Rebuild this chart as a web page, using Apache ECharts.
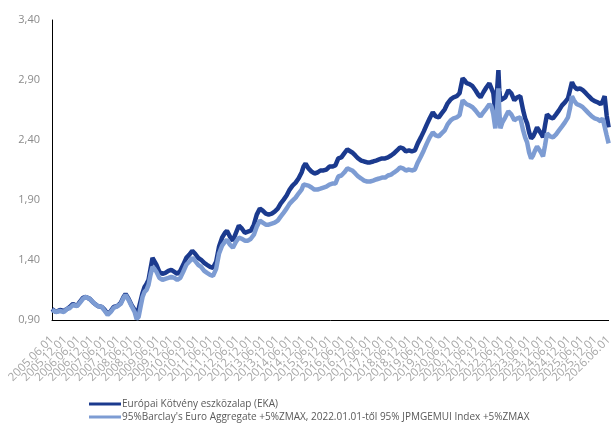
<!DOCTYPE html>
<html>
<head>
<meta charset="utf-8">
<script src="https://cdn.jsdelivr.net/npm/echarts@6/dist/echarts.min.js"></script>
<style>
html,body{margin:0;padding:0;background:#fff;}
#chart{width:615px;height:424px;}
</style>
</head>
<body>
<div id="chart"></div>
<script>
// Months since 2005.06.01
const months = [0,1.8,3.6,5.4,6.8,8.1,9.5,11.3,12.6,14,15.3,17.1,18.9,20.7,22.5,23.9,25.2,26.6,27.9,29.7,31.1,32.4,33.3,34.7,36,37.4,38.3,39.2,40.1,41,41.9,42.8,43.7,44.6,45.5,46.4,47.3,48.6,50,51.3,52.7,54,55.4,56.7,58.1,59.4,60.8,62.1,63.5,64.8,66.2,67.5,68.9,70.2,71.6,72.9,74.3,75.6,77,78.3,79.2,80.6,81.9,83.3,84.6,86,87.3,88.7,90,91.4,92.7,94.1,95.4,96.8,98.1,99.5,100.8,102.2,103.5,104.9,106.2,107.6,108.9,110.3,111.6,113,113.9,114.8,116.1,117.5,118.8,120.2,121.5,122.9,124.2,125.6,126.9,128.3,129.6,131,132.3,133.7,134.6,135.9,137.3,138.6,140,141.3,142.7,144,145.4,146.7,148.1,149.4,150.8,152.1,153.5,154.8,156.2,157.5,158.9,160.2,161.6,162.9,164.3,165.6,167,168.3,169.7,171,172.4,173.7,175.1,176.4,177.8,179.1,180.5,181.8,183.2,184.5,185.9,186.8,187.7,189,190.4,191.7,193.1,194,195.3,196.7,198,198.9,199.8,200.7,201.2,202.1,202.5,203,203.9,205.2,206.6,207.9,209.3,210.6,212,213.3,214.2,215.1,216,216.9,217.8,218.7,219.6,220.5,221.4,222.3,223.2,224.1,225.5,226.8,228.2,229.5,230.9,232.2,233.6,234.5,235.4,236.3,237.6,239,240.3,241.7,243,244.4,245.7,247.1,248.4,249.3,250.2,251.1,252];

const ekaValues = [0.992,0.967,0.984,0.975,0.992,1.009,1.034,1.017,1.051,1.084,1.092,1.076,1.042,1.017,1.009,0.984,0.950,0.975,1.009,1.017,1.042,1.092,1.117,1.076,1.025,0.984,0.959,0.992,1.059,1.126,1.176,1.201,1.234,1.326,1.418,1.402,1.360,1.301,1.285,1.293,1.310,1.318,1.301,1.285,1.310,1.360,1.418,1.443,1.477,1.452,1.418,1.402,1.376,1.360,1.343,1.335,1.385,1.510,1.586,1.627,1.644,1.594,1.561,1.627,1.686,1.661,1.627,1.636,1.644,1.694,1.778,1.828,1.811,1.786,1.778,1.786,1.803,1.828,1.870,1.903,1.937,1.987,2.020,2.045,2.079,2.129,2.179,2.204,2.163,2.137,2.121,2.129,2.146,2.146,2.154,2.179,2.179,2.188,2.246,2.255,2.288,2.321,2.330,2.296,2.271,2.246,2.229,2.221,2.213,2.213,2.221,2.229,2.238,2.246,2.246,2.255,2.271,2.288,2.313,2.338,2.330,2.305,2.313,2.305,2.313,2.372,2.422,2.472,2.530,2.581,2.631,2.597,2.589,2.622,2.656,2.706,2.739,2.756,2.765,2.790,2.915,2.898,2.873,2.865,2.848,2.815,2.773,2.756,2.798,2.840,2.873,2.865,2.790,2.631,2.731,2.982,2.815,2.731,2.723,2.756,2.815,2.790,2.731,2.756,2.765,2.647,2.581,2.539,2.464,2.413,2.430,2.464,2.505,2.514,2.455,2.422,2.522,2.614,2.589,2.581,2.614,2.647,2.689,2.714,2.748,2.815,2.882,2.848,2.823,2.831,2.815,2.790,2.765,2.739,2.723,2.714,2.698,2.723,2.765,2.606,2.505];

const benchValues = [0.984,0.967,0.975,0.967,0.992,1.000,1.025,1.017,1.042,1.076,1.092,1.076,1.042,1.017,1.009,0.975,0.942,0.967,1.000,1.017,1.034,1.084,1.109,1.067,1.017,0.967,0.908,0.925,1.009,1.092,1.134,1.151,1.193,1.276,1.343,1.326,1.301,1.251,1.234,1.243,1.251,1.260,1.251,1.234,1.251,1.301,1.360,1.385,1.418,1.393,1.360,1.343,1.310,1.293,1.276,1.268,1.326,1.452,1.519,1.552,1.569,1.527,1.502,1.552,1.586,1.577,1.561,1.561,1.577,1.611,1.678,1.728,1.711,1.694,1.694,1.703,1.711,1.728,1.761,1.795,1.828,1.870,1.895,1.920,1.954,1.987,2.029,2.045,2.020,2.004,1.987,1.987,1.995,2.004,2.012,2.029,2.037,2.037,2.096,2.104,2.129,2.163,2.171,2.146,2.121,2.096,2.079,2.062,2.054,2.054,2.062,2.071,2.079,2.087,2.087,2.104,2.112,2.129,2.146,2.171,2.163,2.146,2.154,2.146,2.154,2.213,2.263,2.313,2.372,2.422,2.464,2.439,2.430,2.455,2.480,2.530,2.564,2.581,2.589,2.606,2.731,2.723,2.698,2.689,2.673,2.647,2.614,2.597,2.631,2.664,2.698,2.681,2.614,2.497,2.581,2.831,2.647,2.497,2.547,2.589,2.639,2.614,2.564,2.581,2.589,2.480,2.422,2.380,2.296,2.246,2.271,2.313,2.346,2.346,2.296,2.263,2.355,2.455,2.430,2.422,2.447,2.480,2.514,2.547,2.589,2.664,2.765,2.731,2.698,2.689,2.673,2.647,2.622,2.597,2.581,2.572,2.555,2.581,2.597,2.439,2.372];

const tickLabels = ['2005.06.01','2005.12.01','2006.06.01','2006.12.01','2007.06.01','2007.12.01','2008.06.01','2008.12.01','2009.06.01','2009.12.01','2010.06.01','2010.12.01','2011.06.01','2011.12.01','2012.06.01','2012.12.01','2013.06.01','2013.12.01','2014.06.01','2014.12.01','2015.06.01','2015.12.01','2016.06.01','2016.12.01','2017.06.01','2017.12.01','2018.06.01','2018.12.01','2019.06.01','2019.12.01','2020.06.01','2020.12.01','2021.06.01','2021.12.01','2022.06.01','2022.12.01','2023.06.01','2023.12.01','2024.06.01','2024.12.01','2025.06.01','2025.12.01','2026.06.01'];

const seriesNames = ['Európai Kötvény eszközalap (EKA)', "95%Barclay's Euro Aggregate +5%ZMAX, 2022.01.01-től 95% JPMGEMUI Index +5%ZMAX"];
const seriesColors = ['#1b3a8e', '#7d9cd3'];

const chart = echarts.init(document.getElementById('chart'), null, {renderer: 'canvas'});
const pairs = vals => months.map((m, i) => [m, vals[i]]);
const legendBase = {
  orient: 'horizontal', left: 84, itemGap: 0,
  itemWidth: 32, itemHeight: 3, icon: 'rect',
  textStyle: {fontSize: 10, color: '#595959', fontFamily: 'Open Sans, sans-serif', padding: [0, 0, 0, -4]}
};
chart.setOption({
  animation: false,
  backgroundColor: '#fff',
  grid: {left: 52, right: 3, top: 20, bottom: 104},
  xAxis: [
    {
      // label axis: one label per half-year tick
      type: 'category', data: tickLabels, boundaryGap: false,
      axisLine: {show: true, onZero: false, lineStyle: {color: '#000', width: 1}},
      axisTick: {show: false},
      splitLine: {show: false},
      axisLabel: {
        interval: 0, rotate: 45, fontSize: 11.5, color: '#a6a6a6', margin: 18,
        fontFamily: 'Open Sans, sans-serif'
      }
    },
    {
      // data axis: months since 2005.06.01
      type: 'value', min: 0, max: 252, show: false
    }
  ],
  yAxis: {
    type: 'value', min: 0.9, max: 3.4, interval: 0.5,
    axisLine: {show: true, lineStyle: {color: '#000', width: 1}},
    axisTick: {show: false},
    splitLine: {show: false},
    axisLabel: {
      fontSize: 11, color: '#8c8c8c', margin: 12,
      fontFamily: 'Open Sans, sans-serif',
      formatter: v => v.toFixed(2).replace('.', ',')
    }
  },
  legend: [
    Object.assign({}, legendBase, {top: 394, data: [seriesNames[0]]}),
    Object.assign({}, legendBase, {top: 407, data: [seriesNames[1]]})
  ],
  series: [
    {name: seriesNames[0], type: 'line', xAxisIndex: 1, data: pairs(ekaValues), showSymbol: false,
     lineStyle: {color: seriesColors[0], width: 4.5}, itemStyle: {color: seriesColors[0]}},
    {name: seriesNames[1], type: 'line', xAxisIndex: 1, data: pairs(benchValues), showSymbol: false,
     lineStyle: {color: seriesColors[1], width: 4.5}, itemStyle: {color: seriesColors[1]}}
  ]
});
</script>
</body>
</html>
